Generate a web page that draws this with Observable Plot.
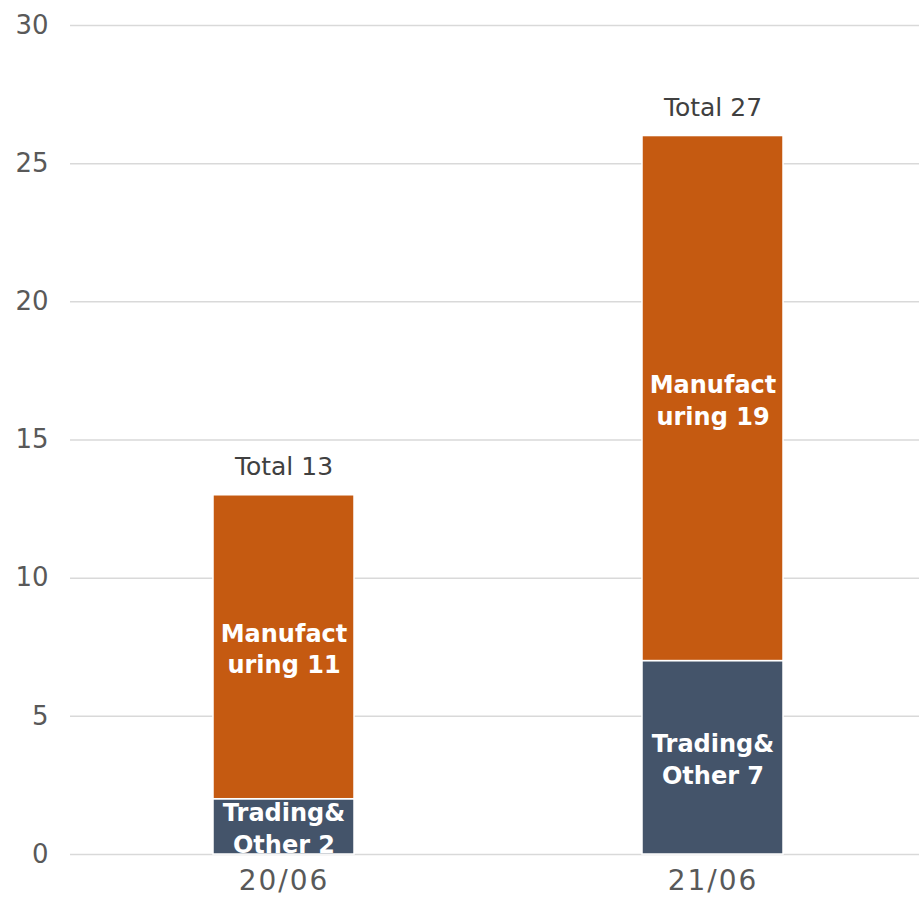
<!DOCTYPE html>
<html>
<head>
<meta charset="utf-8">
<script src="https://cdn.jsdelivr.net/npm/d3@7"></script>
<script src="https://cdn.jsdelivr.net/npm/@observablehq/plot@0.6"></script>
<style>
  html, body { margin: 0; padding: 0; background: #fff; }
  #chart svg { font-family: "DejaVu Sans", "Noto Sans", sans-serif; }
  #chart g[aria-label="x-axis tick label"] text { letter-spacing: 2px; }
</style>
</head>
<body>
<div id="chart"></div>
<script>
const periods = ["20/06", "21/06"];
const seriesNames = ["Trading&\nOther", "Manufact\nuring"];
const trading = [2, 7];
const manufacturing = [11, 19];
const totalLabels = ["Total 13", "Total 27"];
const yTicks = [0, 5, 10, 15, 20, 25, 30];

const colors = ["#44546A", "#C55A11"];

const rows = [];
periods.forEach((p, i) => {
  rows.push({period: p, series: seriesNames[0], value: trading[i], order: 0});
  rows.push({period: p, series: seriesNames[1], value: manufacturing[i], order: 1});
});
const totals = periods.map((p, i) => ({period: p, top: trading[i] + manufacturing[i], label: totalLabels[i]}));

const chart = Plot.plot({
  width: 919,
  height: 897,
  marginLeft: 70,
  marginRight: 0,
  marginTop: 25,
  marginBottom: 43,
  x: {domain: periods, range: [212.5, 783.5], paddingInner: 0.671, paddingOuter: 0, label: null},
  y: {domain: [0, 30], label: null},
  color: {domain: seriesNames, range: colors},
  marks: [
    Plot.gridY(yTicks, {stroke: "#d9d9d9", strokeOpacity: 1, strokeWidth: 1.5}),
    Plot.barY(rows, {x: "period", y: "value", fill: "series", order: "order", stroke: "#fff", strokeWidth: 1.5}),
    Plot.text(rows, Plot.stackY({
      x: "period", y: "value", order: "order",
      text: d => `${d.series} ${d.value}`,
      fill: "#fff", fontSize: 24, fontWeight: 700, lineHeight: 1.33
    })),
    Plot.text(totals, {x: "period", y: "top", text: "label", dy: -28, fill: "#404040", fontSize: 25}),
    Plot.axisY(yTicks, {tickSize: 0, tickPadding: 22, fontSize: 26, fill: "#595959", label: null}),
    Plot.axisX({tickSize: 0, tickPadding: 16, fontSize: 28, fill: "#595959", label: null})
  ]
});
document.getElementById("chart").appendChild(chart);
</script>
</body>
</html>
